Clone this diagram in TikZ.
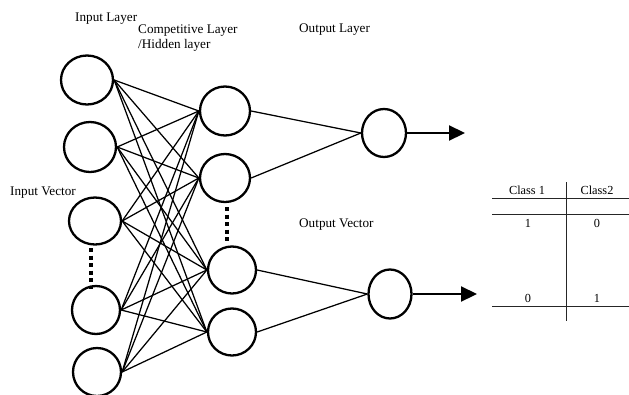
\documentclass[tikz,border=0pt]{standalone}
\usepackage{fontspec}
\setmainfont{Liberation Serif}
\usetikzlibrary{shapes.geometric,arrows.meta}
\begin{document}
\begin{tikzpicture}[x=1pt,y=-1pt,
  neuron/.style={draw,ellipse,line width=2.3pt,inner sep=0pt},
  link/.style={line width=1.25pt},
  lbl/.style={anchor=base west,inner sep=0pt,font=\fontsize{13.2}{15}\selectfont},
  cell/.style={anchor=base,inner sep=0pt,font=\fontsize{12.3}{14}\selectfont},
  dotline/.style={line width=3.5pt,dash pattern=on 4pt off 3.5pt},
  outarrow/.style={line width=2.2pt,-{Triangle[length=16pt,width=15pt]}},
  rule/.style={line width=1pt,draw=black!85}]
\useasboundingbox (0,0) rectangle (629,394);

% input layer
\node[neuron,minimum width=52pt,minimum height=49pt] (i1) at (87,80) {};
\node[neuron,minimum width=52pt,minimum height=50pt] (i2) at (90,147) {};
\node[neuron,minimum width=52pt,minimum height=47pt] (i3) at (95,221) {};
\node[neuron,minimum width=48pt,minimum height=48pt] (i4) at (96,310) {};
\node[neuron,minimum width=48pt,minimum height=48pt] (i5) at (97,372) {};

% hidden layer
\node[neuron,minimum width=50pt,minimum height=49pt] (h1) at (225,111) {};
\node[neuron,minimum width=50pt,minimum height=48pt] (h2) at (225,178) {};
\node[neuron,minimum width=48pt,minimum height=47pt] (h3) at (232,270) {};
\node[neuron,minimum width=48pt,minimum height=47pt] (h4) at (232,332) {};

% output layer
\node[neuron,minimum width=44pt,minimum height=48pt] (o1) at (384,133) {};
\node[neuron,minimum width=43pt,minimum height=49pt] (o2) at (390,294) {};

% connections
\foreach \a in {i1,i2,i3,i4,i5}
  \foreach \b in {h1,h2,h3,h4}
    \draw[link] (\a.east) -- (\b.west);
\draw[link] (h1.east) -- (o1.west);
\draw[link] (h2.east) -- (o1.west);
\draw[link] (h3.east) -- (o2.west);
\draw[link] (h4.east) -- (o2.west);

% dotted continuation marks
\draw[dotline] (91,248) -- (91,289);
\draw[dotline] (227,207) -- (227,244);

% output arrows
\coordinate (e1) at (465,133);
\coordinate (e2) at (477,294);
\draw[outarrow] (o1.east) -- (e1);
\draw[outarrow] (o2.east) -- (e2);

% labels
\node[lbl] (tin) at (75,21) {Input Layer};
\node[lbl] (tcomp) at (138,33) {Competitive Layer};
\node[lbl] (thid) at (138,48) {/Hidden layer};
\node[lbl] (tout) at (299,32) {Output Layer};
\node[lbl] (tinv) at (10,195) {Input Vector};
\node[lbl] (toutv) at (299,227) {Output Vector};

% table
\draw[rule] (492,198) -- (629,198);
\draw[rule] (492,214) -- (629,214);
\draw[rule] (492,306) -- (629,306);
\draw[rule] (566,182) -- (566,321);
\node[cell] (c1) at (527,194) {Class 1};
\node[cell] (c2) at (597,194) {Class2};
\node[cell] (r11) at (528,227) {1};
\node[cell] (r12) at (597,227) {0};
\node[cell] (r21) at (528,302) {0};
\node[cell] (r22) at (597,302) {1};
\end{tikzpicture}
\end{document}
